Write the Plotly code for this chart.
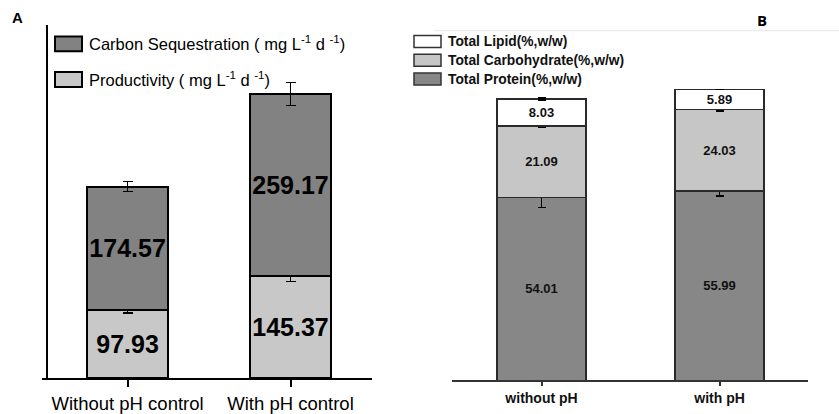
import plotly.graph_objects as go

# ---------------- data ----------------
# Panel A: productivity and carbon sequestration (mg L-1 d-1)
conditions_a = ["Without pH control", "With pH control"]
productivity = [97.93, 145.37]
productivity_err = [5.0, 7.7]
carbon_seq = [174.57, 259.17]
carbon_seq_err = [7.0, 16.0]
series_a_names = [
    "Carbon Sequestration ( mg L<sup>-1</sup> d <sup>-1</sup>)",
    "Productivity ( mg L<sup>-1</sup> d <sup>-1</sup>)",
]

# Panel B: biomass composition (%, w/w)
conditions_b = ["without pH", "with pH"]
protein = [54.01, 55.99]
protein_err = [3.0, 1.5]
carbohydrate = [21.09, 24.03]
carbohydrate_err = [0.4, 0.4]
lipid = [8.03, 5.89]
lipid_err = [0.3, 0.0]
series_b_names = ["Total Lipid(%,w/w)", "Total Carbohydrate(%,w/w)", "Total Protein(%,w/w)"]

# ---------------- styling ----------------
W, H = 839, 414
ARIAL = "Liberation Sans, Arial, Helvetica, sans-serif"
DARK_A, LIGHT_A = "#828282", "#c8c8c8"
DARK_B, LIGHT_B = "#878787", "#c6c6c6"


def px(x):
    return x / W


def py(y):
    return 1 - y / H


fig = go.Figure()

# Panel A stacked bars
for vals, errs, color, name in [
    (productivity, productivity_err, LIGHT_A, series_a_names[1]),
    (carbon_seq, carbon_seq_err, DARK_A, series_a_names[0]),
]:
    fig.add_trace(go.Bar(
        x=conditions_a, y=vals, name=name,
        marker=dict(color=color, line=dict(color="black", width=2)),
        width=0.497, xaxis="x", yaxis="y",
        error_y=dict(type="data", array=errs, color="black", thickness=1.3, width=5),
        texttemplate="%{y:.2f}", textposition="inside", insidetextanchor="middle",
        textangle=0, constraintext="none",
        textfont=dict(family=ARIAL, size=25, color="black", weight="bold"),
        showlegend=False,
    ))

# Panel B stacked bars (protein at the bottom)
for vals, errs, color, name in [
    (protein, protein_err, DARK_B, series_b_names[2]),
    (carbohydrate, carbohydrate_err, LIGHT_B, series_b_names[1]),
    (lipid, lipid_err, "white", series_b_names[0]),
]:
    fig.add_trace(go.Bar(
        x=conditions_b, y=vals, name=name,
        marker=dict(color=color, line=dict(color="#2a2a2a", width=1.5)),
        width=0.5, xaxis="x2", yaxis="y2",
        error_y=dict(type="data", array=errs, color="black", thickness=1.5, width=4),
        texttemplate="%{y:.2f}", textposition="inside", insidetextanchor="middle",
        textangle=0, constraintext="none",
        textfont=dict(family=ARIAL, size=13, color="#111111", weight="bold"),
        showlegend=False,
    ))

shapes = []
annotations = []

# Legend for panel A
for i, (name, color) in enumerate(zip(series_a_names, [DARK_A, LIGHT_A])):
    top = 37 + 36 * i
    shapes.append(dict(type="rect", xref="paper", yref="paper",
                       x0=px(55), x1=px(82), y0=py(top + 15), y1=py(top),
                       fillcolor=color, line=dict(color="black", width=2)))
    annotations.append(dict(xref="paper", yref="paper", x=px(87), y=py(top + 7),
                            xanchor="left", yanchor="middle", showarrow=False,
                            text=name, font=dict(family=ARIAL, size=16.5, color="black")))

# Legend for panel B
for i, (name, color) in enumerate(zip(series_b_names, ["white", LIGHT_B, DARK_B])):
    top = 36 + 19 * i
    shapes.append(dict(type="rect", xref="paper", yref="paper",
                       x0=px(414), x1=px(441), y0=py(top + 12), y1=py(top),
                       fillcolor=color, line=dict(color="#333333", width=1.5)))
    annotations.append(dict(xref="paper", yref="paper", x=px(446), y=py(top + 6),
                            xanchor="left", yanchor="middle", showarrow=False,
                            text=name, font=dict(family=ARIAL, size=13.8, color="#111111", weight="bold")))

# Thin frame line above panel B
shapes.append(dict(type="line", xref="paper", yref="paper",
                   x0=px(435), x1=1, y0=py(31), y1=py(31),
                   line=dict(color="#e8e8e8", width=1)))

# Panel letters
annotations.append(dict(xref="paper", yref="paper", x=px(17), y=py(18),
                        xanchor="center", yanchor="middle", showarrow=False, text="A",
                        font=dict(family=ARIAL, size=15, color="black", weight="bold")))
annotations.append(dict(xref="paper", yref="paper", x=px(762), y=py(20),
                        xanchor="center", yanchor="middle", showarrow=False, text="B",
                        font=dict(family="Open Sans, " + ARIAL, size=15, color="black", weight="bold")))

fig.update_layout(
    width=W, height=H,
    margin=dict(l=0, r=0, t=0, b=0),
    paper_bgcolor="white", plot_bgcolor="white",
    barmode="stack",
    xaxis=dict(domain=[px(42), px(372)], range=[-0.525, 1.5], anchor="y",
               showline=True, linecolor="black", linewidth=2,
               ticks="outside", ticklen=7, tickwidth=1.5, tickcolor="black",
               tickfont=dict(family=ARIAL, size=18.5, color="black"),
               showgrid=False, zeroline=False),
    yaxis=dict(domain=[py(383), py(25)], range=[0, 503], anchor="free", position=px(47),
               showline=True, linecolor="black", linewidth=2,
               showticklabels=False, ticks="", showgrid=False, zeroline=False),
    xaxis2=dict(domain=[px(452), px(808)], range=[-0.503, 1.497], anchor="y2",
                showline=True, linecolor="#333333", linewidth=1.5,
                ticks="outside", ticklen=4, tickwidth=1.5, tickcolor="#333333",
                tickfont=dict(family=ARIAL, size=14, color="#111111", weight="bold"),
                showgrid=False, zeroline=False),
    yaxis2=dict(domain=[py(385), py(30)], range=[0, 103.65], anchor="x2",
                showline=False, showticklabels=False, ticks="",
                showgrid=False, zeroline=False),
    shapes=shapes,
    annotations=annotations,
)

fig.write_html("out.html")
